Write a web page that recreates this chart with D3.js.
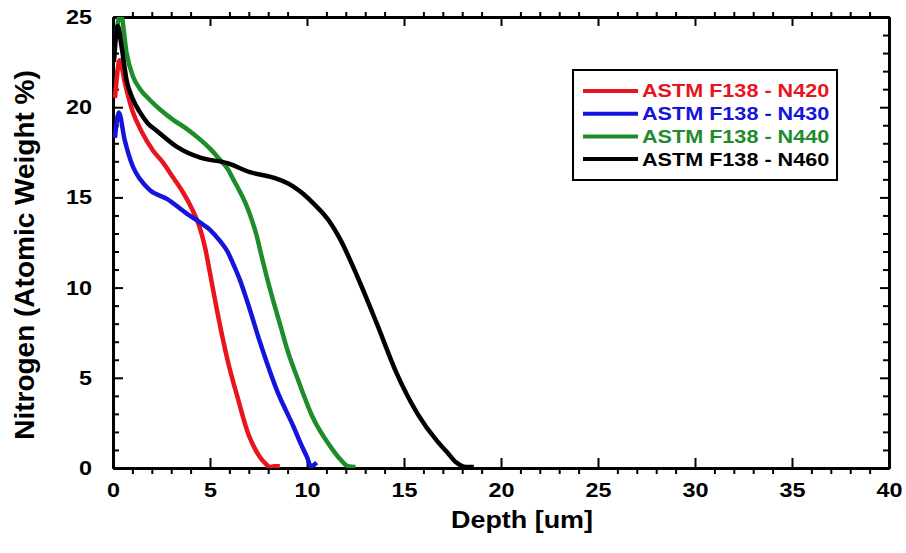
<!DOCTYPE html>
<html>
<head>
<meta charset="utf-8">
<script src="https://cdn.jsdelivr.net/npm/d3@7"></script>
<style>
body { margin: 0; background: #fff; }
text { font-family: "Liberation Sans", Arial, sans-serif; font-weight: bold; }
</style>
</head>
<body>
<svg width="906" height="553"></svg>
<script>
// depth [um] and nitrogen [at. wt %]
const n420Depth = [0.1,0.35,0.6,1.0,1.5,2.06,2.6,3.1,3.6,4.1,4.45,4.75,5.0,5.35,5.9,6.45,6.97,7.3,7.58,7.85,8.1,8.3,8.6]
const n420Value = [20.5,22.6,21.4,19.8,18.6,17.6,16.9,16.1,15.3,14.3,13.4,12.2,10.8,8.8,6.0,3.8,1.9,1.1,0.6,0.25,0.05,0.1,0.1]

const n430Depth = [0.1,0.3,0.6,1.03,1.4,1.9,2.8,3.8,4.5,5.0,5.5,5.9,6.2,6.55,6.9,7.6,8.45,9.3,9.7,10.0,10.2,10.5]
const n430Value = [18.3,19.7,18.2,16.7,16.0,15.4,14.9,14.1,13.6,13.2,12.6,12.0,11.3,10.4,9.3,6.9,4.3,2.3,1.3,0.6,0.1,0.3]

const n440Depth = [0.15,0.4,0.7,1.03,1.4,1.9,2.5,3.1,3.8,4.5,5.0,5.5,5.9,6.2,6.55,6.9,7.2,7.4,7.6,7.9,8.25,8.6,9.0,9.5,10.3,11.2,11.7,12.1,12.5]
const n440Value = [24.0,25.2,23.0,21.7,21.0,20.4,19.8,19.3,18.8,18.2,17.7,17.1,16.6,16.0,15.3,14.5,13.6,12.9,12.0,10.7,9.3,8.0,6.5,5.0,2.8,1.2,0.5,0.1,0.05]

const n460Depth = [0.05,0.25,0.45,0.7,1.0,1.4,1.8,2.25,3.3,4.5,5.9,7.06,8.25,9.3,9.8,10.3,10.75,11.2,11.7,12.6,13.6,14.6,15.7,16.7,17.2,17.7,18.2,18.6]
const n460Value = [22.5,24.5,23.3,21.5,20.5,19.7,19.1,18.7,17.8,17.2,16.9,16.4,16.1,15.6,15.2,14.7,14.2,13.6,12.7,10.6,8.0,5.3,3.0,1.5,0.9,0.3,0.05,0.05]

const seriesNames = ["ASTM F138 - N420","ASTM F138 - N430","ASTM F138 - N440","ASTM F138 - N460"]
const seriesColors = ["#e8141e","#1414dc","#1e8c2a","#000000"]
const xTicks = [0,5,10,15,20,25,30,35,40]
const yTicks = [0,5,10,15,20,25]

const series = [
	[n420Depth, n420Value],
	[n430Depth, n430Value],
	[n440Depth, n440Value],
	[n460Depth, n460Value]
].map((s, i) => ({
	name: seriesNames[i],
	color: seriesColors[i],
	points: s[0].map((d, j) => [d, s[1][j]])
}))

var margin = {top: 17, right: 17, bottom: 85, left: 113},
    width = 906 - margin.left - margin.right,
    height = 553 - margin.top - margin.bottom;

var svg = d3.select("svg")
	.append("g")
	.attr("transform", "translate(" + margin.left + "," + margin.top + ")");

var x = d3.scaleLinear().domain([0, 40]).range([0, width]);
var y = d3.scaleLinear().domain([0, 25]).range([height, 0]);

const xMinor = d3.range(0, 41).filter(v => v % 5 != 0)
const yMinor = d3.range(0, 26).filter(v => v % 5 != 0)
const stretch = "scale(1.17,1)"

function styleAxis(g) {
	g.select(".domain").attr("stroke-width", 3)
	g.selectAll(".tick line").attr("stroke-width", 2)
	g.selectAll("text").attr("font-size", 20).attr("fill", "#000").attr("transform", stretch)
}

// bottom
svg.append("g").attr("transform", "translate(0," + height + ")")
	.call(d3.axisBottom(x).tickValues(xMinor).tickSize(6).tickSizeOuter(0).tickFormat(""))
	.call(styleAxis)
svg.append("g").attr("transform", "translate(0," + height + ")")
	.call(d3.axisBottom(x).tickValues(xTicks).tickSize(-10).tickSizeOuter(0).tickPadding(15))
	.call(styleAxis)
// top
svg.append("g")
	.call(d3.axisTop(x).tickValues(xMinor).tickSize(5).tickSizeOuter(0).tickFormat(""))
	.call(styleAxis)
svg.append("g")
	.call(d3.axisTop(x).tickValues(xTicks).tickSize(-9).tickSizeOuter(0).tickFormat(""))
	.call(styleAxis)
// left
svg.append("g")
	.call(d3.axisLeft(y).tickValues(yMinor).tickSize(-6).tickSizeOuter(0).tickFormat(""))
	.call(styleAxis)
svg.append("g")
	.call(d3.axisLeft(y).tickValues(yTicks).tickSize(-10).tickSizeOuter(0).tickPadding(18))
	.call(styleAxis)
// right
svg.append("g").attr("transform", "translate(" + width + ",0)")
	.call(d3.axisRight(y).tickValues(yMinor).tickSize(-6).tickSizeOuter(0).tickFormat(""))
	.call(styleAxis)
svg.append("g").attr("transform", "translate(" + width + ",0)")
	.call(d3.axisRight(y).tickValues(yTicks).tickSize(-9).tickSizeOuter(0).tickFormat(""))
	.call(styleAxis)

svg.append("clipPath").attr("id", "plot-clip")
	.append("rect").attr("width", width).attr("height", height)

var line = d3.line()
	.x(d => x(d[0]))
	.y(d => y(d[1]))
	.curve(d3.curveMonotoneX)

svg.append("g").attr("clip-path", "url(#plot-clip)")
	.selectAll("path")
	.data(series)
	.enter()
	.append("path")
	.attr("d", d => line(d.points))
	.attr("fill", "none")
	.attr("stroke", d => d.color)
	.attr("stroke-width", 4.5)
	.attr("stroke-linejoin", "round")

// axis titles
svg.append("text")
	.attr("transform", "translate(" + (522 - margin.left) + "," + (528 - margin.top) + ") " + stretch)
	.attr("text-anchor", "middle")
	.attr("font-size", 23)
	.text("Depth [um]")

svg.append("text")
	.attr("transform", "translate(" + (34 - margin.left) + "," + (255 - margin.top) + ") rotate(-90)")
	.attr("text-anchor", "middle")
	.attr("font-size", 28)
	.text("Nitrogen (Atomic Weight %)")

// legend
var legend = svg.append("g")
	.attr("transform", "translate(" + (573 - margin.left) + "," + (70 - margin.top) + ")")

legend.append("rect")
	.attr("width", 264).attr("height", 110)
	.attr("fill", "#fff").attr("stroke", "#000").attr("stroke-width", 2)

var rows = legend.selectAll(".row")
	.data(series).enter()
	.append("g")
	.attr("transform", (d, i) => "translate(0," + (21 + i * 22.7) + ")")

rows.append("line")
	.attr("x1", 10).attr("x2", 65)
	.attr("stroke", d => d.color).attr("stroke-width", 4)

rows.append("text")
	.attr("transform", "translate(69,0) scale(1.2,1)")
	.attr("dy", "0.36em")
	.attr("font-size", 18)
	.attr("fill", d => d.color)
	.text(d => d.name)
</script>
</body>
</html>
